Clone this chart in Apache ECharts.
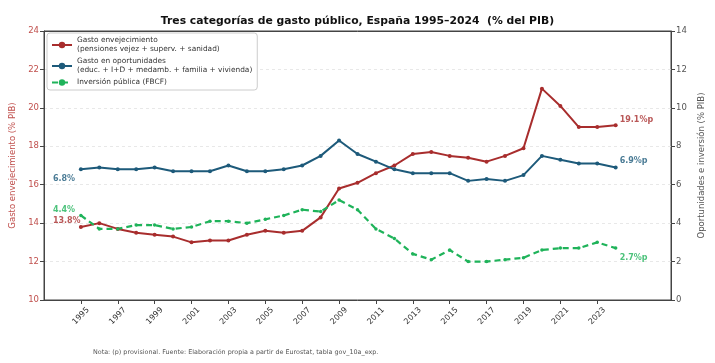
<!DOCTYPE html>
<html><head><meta charset="utf-8">
<script src="https://cdn.jsdelivr.net/npm/echarts@6/dist/echarts.min.js"></script>
<style>html,body{margin:0;padding:0;background:#fff}#c{width:715px;height:363px}</style>
</head><body><div id="c"></div>
<script>
const years = [1995,1996,1997,1998,1999,2000,2001,2002,2003,2004,2005,2006,2007,2008,2009,2010,2011,2012,2013,2014,2015,2016,2017,2018,2019,2020,2021,2022,2023,2024];
const envejecimiento = [13.8,14.0,13.7,13.5,13.4,13.3,13.0,13.1,13.1,13.4,13.6,13.5,13.6,14.3,15.8,16.1,16.6,17.0,17.6,17.7,17.5,17.4,17.2,17.5,17.9,21.0,20.1,19.0,19.0,19.1];
const oportunidades = [6.8,6.9,6.8,6.8,6.9,6.7,6.7,6.7,7.0,6.7,6.7,6.8,7.0,7.5,8.3,7.6,7.2,6.8,6.6,6.6,6.6,6.2,6.3,6.2,6.5,7.5,7.3,7.1,7.1,6.9];
const inversion = [4.4,3.7,3.7,3.9,3.9,3.7,3.8,4.1,4.1,4.0,4.2,4.4,4.7,4.6,5.2,4.7,3.7,3.2,2.4,2.1,2.6,2.0,2.0,2.1,2.2,2.6,2.7,2.7,3.0,2.7];
const xTicks = [1995,1997,1999,2001,2003,2005,2007,2009,2011,2013,2015,2017,2019,2021,2023];
const leftTicks = [10,12,14,16,18,20,22,24];
const rightTicks = [0,2,4,6,8,10,12,14];
const names = ['Gasto envejecimiento\n(pensiones vejez + superv. + sanidad)','Gasto en oportunidades\n(educ. + I+D + medamb. + familia + vivienda)','Inversión pública (FBCF)'];
const startLabels = ['13.8%','6.8%','4.4%'];
const endLabels = ['19.1%p','6.9%p','2.7%p'];
const titleText = 'Tres categorías de gasto público, España 1995–2024  (% del PIB)';
const noteText = 'Nota: (p) provisional. Fuente: Elaboración propia a partir de Eurostat, tabla gov_10a_exp.';

const F = 'DejaVu Sans';
const RED = '#a82d2d', BLUE = '#1d5a7a', GREEN = '#1fb35a';
const zip = a => years.map((y,i)=>[y,a[i]]);
const first = a => [years[0], a[0]];
const last = a => [years[years.length-1], a[a.length-1]];

function annot(name, arr, yi, color, sOff, eOff, idx){
  const lab = (txt, off) => ({show:true, position:'right', distance:0, offset:off, formatter:txt, color:color, fontWeight:'bold', fontSize:8, fontFamily:F});
  return {type:'scatter', name:name, yAxisIndex:yi, symbolSize:0, silent:true, z:5,
    data:[ {value:first(arr), label:lab(startLabels[idx], sOff)}, {value:last(arr), label:lab(endLabels[idx], eOff)} ]};
}

const chart = echarts.init(document.getElementById('c'), null, {renderer:'canvas'});
chart.setOption({
  animation:false,
  backgroundColor:'#fff',
  title:[
    {text:titleText, left:'center', top:11, textStyle:{fontFamily:F, fontSize:10.8, fontWeight:'bold', color:'#111'}},
    {text:noteText, left:88, top:344, textStyle:{fontFamily:F, fontSize:6.4, fontWeight:'normal', color:'#555'}}
  ],
  grid:{left:44, right:44, top:31, bottom:63, show:true, borderColor:'#444', borderWidth:1, backgroundColor:'transparent'},
  legend:{data:names, left:47, top:33, orient:'vertical', padding:[3,5,3,4], itemGap:3, itemWidth:20, itemHeight:8,
    backgroundColor:'#fff', borderColor:'#ccc', borderWidth:1, borderRadius:3,
    textStyle:{fontFamily:F, fontSize:7.4, color:'#333', lineHeight:9}},
  xAxis:[
    {type:'value', min:1993, max:2027,
     axisLine:{show:true, lineStyle:{color:'#444'}},
     axisTick:{show:true, customValues:xTicks, length:4, lineStyle:{color:'#444'}},
     axisLabel:{customValues:xTicks, rotate:45, align:'center', verticalAlign:'middle', fontFamily:F, fontSize:8, color:'#333', margin:16, formatter:v=>String(v)},
     splitLine:{show:false}},
    {type:'value', min:1993, max:2027, position:'top',
     axisLine:{show:true, lineStyle:{color:'#444'}}, axisTick:{show:false}, axisLabel:{show:false}, splitLine:{show:false}}
  ],
  yAxis:[
    {type:'value', min:10, max:24, interval:2, position:'left',
     name:'Gasto envejecimiento (% PIB)', nameLocation:'middle', nameGap:21, nameRotate:90,
     nameTextStyle:{fontFamily:F, fontSize:8.5, color:'#c0504d'},
     axisLine:{show:true, lineStyle:{color:'#444'}},
     axisTick:{show:true, length:4, lineStyle:{color:'#444'}},
     axisLabel:{fontFamily:F, fontSize:8.5, color:'#c0504d', margin:5},
     splitLine:{show:true, lineStyle:{color:'#e3e3e3', type:[3,3], width:0.8}}},
    {type:'value', min:0, max:14, interval:2, position:'right',
     name:'Oportunidades e inversión (% PIB)', nameLocation:'middle', nameGap:18, nameRotate:90,
     nameTextStyle:{fontFamily:F, fontSize:8.5, color:'#555'},
     axisLine:{show:true, lineStyle:{color:'#444'}},
     axisTick:{show:true, length:4, lineStyle:{color:'#444'}},
     axisLabel:{fontFamily:F, fontSize:8.5, color:'#555', margin:5},
     splitLine:{show:false}}
  ],
  series:[
    {type:'line', name:names[0], yAxisIndex:0, data:zip(envejecimiento), color:RED,
     symbol:'circle', symbolSize:4, showSymbol:true, lineStyle:{width:2, color:RED}, itemStyle:{color:RED}, z:3},
    {type:'line', name:names[1], yAxisIndex:1, data:zip(oportunidades), color:BLUE,
     symbol:'circle', symbolSize:4, showSymbol:true, lineStyle:{width:2, color:BLUE}, itemStyle:{color:BLUE}, z:3},
    {type:'line', name:names[2], yAxisIndex:1, data:zip(inversion), color:GREEN,
     symbol:'circle', symbolSize:3.5, showSymbol:true, lineStyle:{width:2.2, color:GREEN, type:[6,4]}, itemStyle:{color:GREEN}, z:3},
    annot('a0', envejecimiento, 0, RED, [-28,-6], [4,-5], 0),
    annot('a1', oportunidades, 1, BLUE, [-28,10], [4,-6], 1),
    annot('a2', inversion, 1, GREEN, [-28,-6], [4,10], 2)
  ]
});
</script></body></html>
